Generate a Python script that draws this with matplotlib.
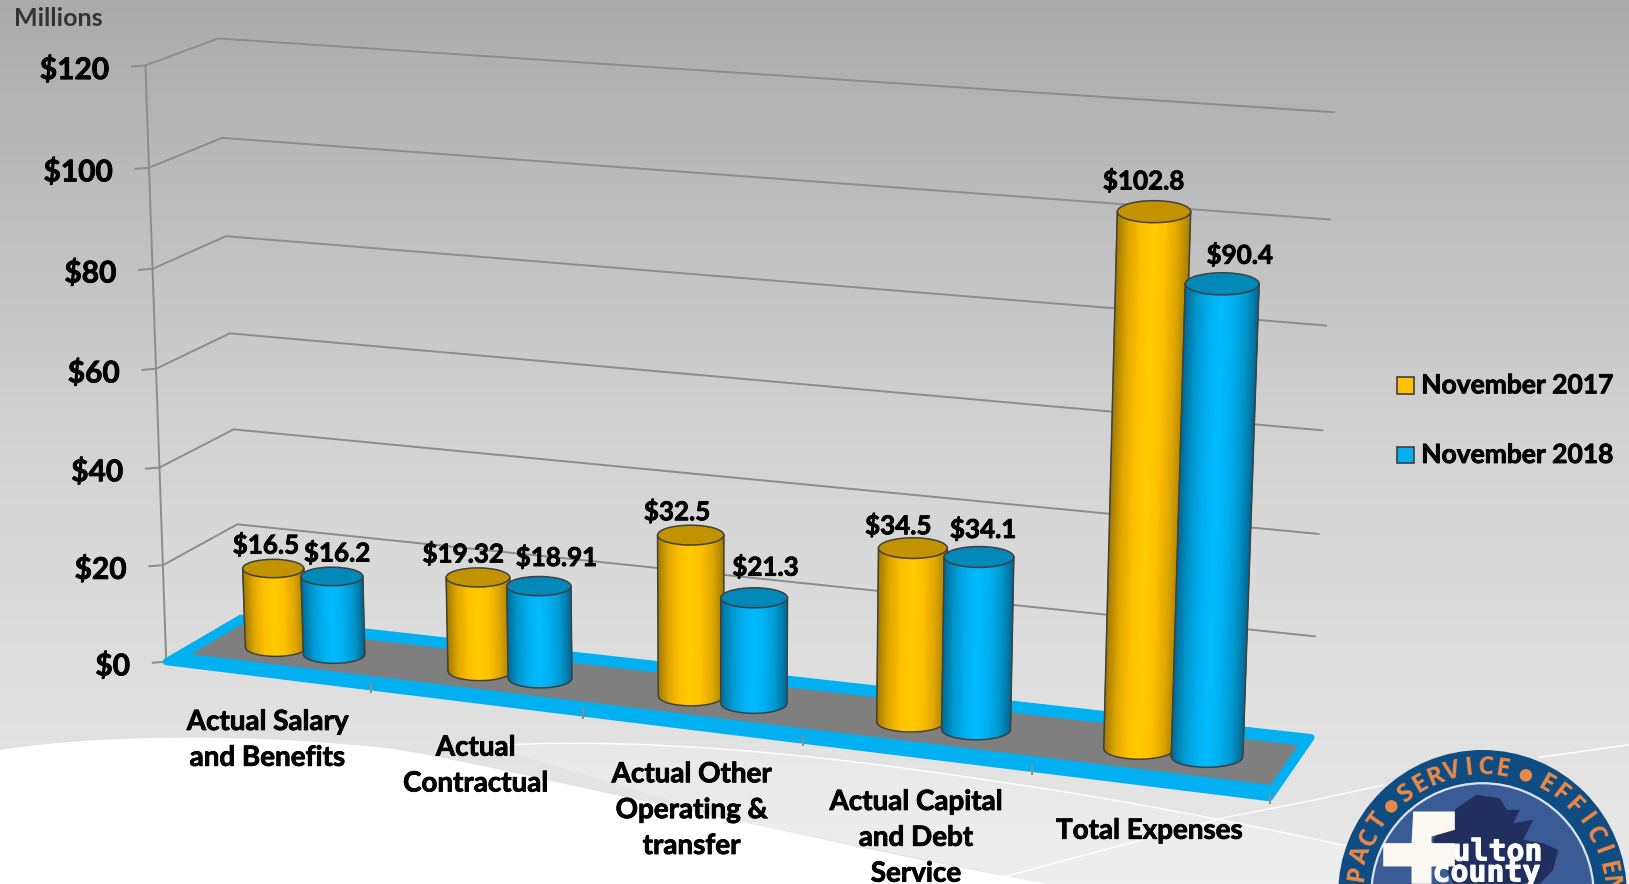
import numpy as np
import matplotlib
matplotlib.use("Agg")
import matplotlib.pyplot as plt
import matplotlib.patheffects as pe
from matplotlib.colors import LinearSegmentedColormap
from matplotlib.patches import Circle, Ellipse, PathPatch, Polygon, Rectangle
from matplotlib.path import Path

# chart data
categories = [["Actual Salary", "and Benefits"],
              ["Actual", "Contractual"],
              ["Actual Other", "Operating &", "transfer"],
              ["Actual Capital", "and Debt", "Service"],
              ["Total Expenses"]]
series_names = ["November 2017", "November 2018"]
nov_2017 = [16.5, 19.32, 32.5, 34.5, 102.8]
nov_2018 = [16.2, 18.91, 21.3, 34.1, 90.4]
y_ticks = [0, 20, 40, 60, 80, 100, 120]

plt.rcParams["font.family"] = ["Lato", "DejaVu Sans"]
plt.rcParams["font.weight"] = "bold"

# Lato Bold is a little lighter than the original face
HEAVY = [pe.withStroke(linewidth=0.6, foreground="black")]
HEAVY_WHITE = [pe.withStroke(linewidth=0.8, foreground="white")]

fig = plt.figure(figsize=(16.29, 8.84), dpi=100)
ax = fig.add_axes([0, 0, 1, 1])
ax.set_xlim(0, 1568)
ax.set_ylim(851, 0)
ax.axis("off")

# background
bg = LinearSegmentedColormap.from_list("bg", ["#ABABAB", "#D3D3D3", "#E9E9E9"])
ax.imshow(np.linspace(0, 1, 256).reshape(-1, 1), cmap=bg, extent=(0, 1568, 851, 0),
          aspect="auto", zorder=0)
C4, L2, M2 = Path.CURVE4, Path.LINETO, Path.MOVETO
band_pts = [(470, 718), (560, 712), (700, 715), (903, 744), (1000, 758), (1100, 772), (1300, 815)]
band_code = [M2, C4, C4, C4, C4, C4, C4]
ax.add_patch(PathPatch(Path(band_pts + [(1568, 851), (1010, 851), (718, 792)],
                            band_code + [L2, L2, L2]),
                       fc="white", ec="none", alpha=0.25, zorder=1))
white_pts = [(0, 722), (90, 708), (230, 705), (369, 720), (430, 727), (560, 760), (718, 792),
             (800, 810), (900, 832), (1010, 851), (0, 851)]
white_code = [M2, C4, C4, C4, C4, C4, C4, C4, C4, C4, L2]
ax.add_patch(PathPatch(Path(white_pts, white_code), fc="white", ec="none", zorder=1))
ax.add_patch(PathPatch(Path(band_pts, band_code), fc="none", ec="white", lw=1, zorder=1))
ax.plot([963, 1179, 1251, 1331], [845, 787, 773, 756], color="white", lw=1, zorder=1)
ax.plot([1482, 1568], [729, 717], color="white", lw=1, zorder=1)

# projection of the 3D chart box: u = category position, d = depth, v = dollars
front_left, back_left = np.array([160, 637.0]), np.array([232, 595.0])
back_right, front_right = np.array([1262, 710.0]), np.array([1222, 768.0])
up_fl, up_bl = np.array([-20, -574.0]), np.array([-22, -558.0])
up_br, up_fr = np.array([22, -602.0]), np.array([24, -625.0])
K = 1.1


def project(u, d, v=0.0):
    s = u / 5
    f = s / (s + (1 - s) * K)
    base = (1 - d) * (front_left + f * (front_right - front_left)) \
        + d * (back_left + f * (back_right - back_left))
    up = (1 - f) * ((1 - d) * up_fl + d * up_bl) + f * ((1 - d) * up_fr + d * up_br)
    t = v / 120
    t = t * (1 + 0.035 * (t - 1))
    return base[0] + up[0] * t, base[1] + up[1] * t


GRID = "#8C8C8C"

# walls and value axis
for v in y_ticks:
    p0, p1, p2 = project(0, 0, v), project(0, 1, v), project(5, 1, v)
    if v > 0:
        ax.plot([p0[0], p1[0], p2[0]], [p0[1], p1[1], p2[1]], color=GRID, lw=1.4, zorder=2)
    ax.plot([p0[0] - 13, p0[0]], [p0[1] + 1, p0[1]], color=GRID, lw=1.4, zorder=2)
    ax.text(p0[0] - 35, p0[1] + 4, f"${v}", ha="right", va="center", fontsize=21.5,
            color="black", zorder=6, path_effects=HEAVY)
ax.plot(*zip(project(0, 0, 0), project(0, 0, 120)), color=GRID, lw=1.4, zorder=2)

# floor
ax.add_patch(Polygon([project(0, 0), project(0, 1), project(5, 1), project(5, 0)],
                     fc="#00B0F0", ec="#00B0F0", lw=5, joinstyle="round", zorder=2.1))
ax.add_patch(Polygon([project(0.05, 0.2), project(0.05, 0.86),
                      project(4.97, 0.86), project(4.97, 0.2)],
                     fc="#7F7F7F", ec="none", zorder=2.2))
for i in range(1, 6):
    x0, y0 = project(i, 0)
    ax.plot([x0, x0], [y0 - 4, y0 + 5], color=GRID, lw=1.4, zorder=2.3)

shade_2017 = LinearSegmentedColormap.from_list(
    "y", ["#A07A00", "#E0A800", "#FFC000", "#FFCC00", "#FFC000", "#E0A800", "#A88000"])
shade_2018 = LinearSegmentedColormap.from_list(
    "b", ["#006A94", "#0098D0", "#00B0F0", "#00BBFF", "#00B0F0", "#0098D0", "#006A94"])
caps = ["#C29200", "#0088B8"]
shades = [shade_2017, shade_2018]
OUTLINE = "#404040"
radius = 0.152
depth = 0.52
offsets = [-0.145, 0.145]
label_shift = {(0, 0): (-7, -23), (0, 1): (5, -23), (1, 0): (-14, -23), (1, 1): (17, -28),
               (2, 0): (-13, -23), (2, 1): (11, -30), (3, 0): (-14, -22), (3, 1): (4, -27),
               (4, 0): (-10, -30), (4, 1): (17, -28)}


def draw_cylinder(u, value, k, order):
    bx0, by = project(u - radius, depth)
    bx1, _ = project(u + radius, depth)
    tx0, ty = project(u - radius, depth, value)
    tx1, _ = project(u + radius, depth, value)
    bx, tx = (bx0 + bx1) / 2, (tx0 + tx1) / 2
    brx, trx = (bx1 - bx0) / 2, (tx1 - tx0) / 2
    by = project(u, depth)[1]
    ty = project(u, depth, value)[1]
    bry, try_ = brx * 0.3, trx * 0.3
    t = np.linspace(-1, 1, 80)
    arc = np.sqrt(1 - t ** 2)
    xs = np.vstack([bx + t * brx, tx + t * trx])
    ys = np.vstack([by + arc * bry, ty + arc * try_])
    ax.pcolormesh(xs, ys, np.vstack([t, t]), cmap=shades[k], shading="gouraud",
                  vmin=-1, vmax=1, zorder=order)
    ax.plot(list(bx + t * brx) + [tx + trx], list(by + arc * bry) + [ty], color=OUTLINE,
            lw=1.1, zorder=order + 0.1)
    ax.plot([bx - brx, tx - trx], [by, ty], color=OUTLINE, lw=1.1, zorder=order + 0.1)
    ax.add_patch(Ellipse((tx, ty), 2 * trx, 2 * try_, fc=caps[k], ec=OUTLINE, lw=1.1,
                         zorder=order + 0.2))
    return tx, ty


# bars and their labels
order = 3.0
for i in range(len(categories)):
    for k, vals in enumerate([nov_2017, nov_2018]):
        tx, ty = draw_cylinder(i + 0.5 + offsets[k], vals[i], k, order)
        order += 0.3
        dx, dy = label_shift[(i, k)]
        ax.text(tx + dx, ty + dy, f"${vals[i]:g}", ha="center", va="center", fontsize=18.7,
                color="black", zorder=7, path_effects=HEAVY)

# category labels
for i, lines in enumerate(categories):
    x0, y0 = project(i + 0.5, 0)
    for n, line in enumerate(lines):
        ax.text(x0, y0 + 46 + n * 34.5, line, ha="center", va="center", fontsize=20,
                color="black", zorder=6, path_effects=HEAVY)

# legend
for k, (name, col, yy) in enumerate(zip(series_names, ["#FFC000", "#00B0F0"], [371, 438])):
    ax.add_patch(Rectangle((1345, yy - 8), 16, 16, fc=col, ec=OUTLINE, lw=1.2, zorder=6))
    ax.text(1368, yy, name, ha="left", va="center", fontsize=19, color="black", zorder=6,
            path_effects=HEAVY)

ax.text(13, 18, "Millions", ha="left", va="center", fontsize=18, color="#333333", zorder=6)


# county seal, bottom right
def seal(zx, zy):
    return (1300 + zx / 3) / 1.039, (730 + zy / 3) / 1.039


cx, cy = 1427, 861
ax.add_patch(Circle((cx, cy), 139, fc="#0F4C81", ec="none", zorder=8))
ax.add_patch(Circle((cx, cy), 107, fc="#3B5B96", ec="#DCE4F0", lw=1.6, zorder=8.1))
map_pts = [(470, 235), (530, 195), (600, 205), (620, 240), (660, 240), (640, 280), (700, 270),
           (670, 330), (730, 340), (775, 360), (760, 420), (720, 462), (460, 462), (400, 330)]
ax.add_patch(Polygon([seal(*p) for p in map_pts], fc="#202F5E", ec="none", zorder=8.2))
f_pts = [(340, 245), (465, 245), (465, 300), (395, 320), (395, 340), (465, 340), (465, 410),
         (395, 410), (395, 462), (335, 462), (335, 410), (250, 410), (250, 340), (335, 340)]
ax.add_patch(Polygon([seal(*p) for p in f_pts], fc="#FBF9F2", ec="none", zorder=8.3))
ax.text(*seal(458, 392), "ulton", family="DejaVu Sans Mono", fontsize=21.5, color="white",
        ha="left", va="baseline", zorder=8.4, path_effects=HEAVY_WHITE)
ax.text(*seal(398, 455), "county", family="DejaVu Sans Mono", fontsize=21.5, color="white",
        ha="left", va="baseline", zorder=8.4, path_effects=HEAVY_WHITE)
ring_words = [("SERVICE", -37, 7.7), ("EFFICIENCY", 30, 8.0), ("TCAPMI", -55, -8.5)]
for word, start, step in ring_words:
    for n, ch in enumerate(word):
        ang = np.radians(start + n * step)
        ax.text(cx + 122 * np.sin(ang), cy - 122 * np.cos(ang), ch, family="Open Sans",
                fontsize=18, color="#E8894A", rotation=-np.degrees(ang), rotation_mode="anchor",
                ha="center", va="center", zorder=8.4, clip_on=True)
for a in [-46, 20]:
    ang = np.radians(a)
    ax.add_patch(Circle((cx + 122 * np.sin(ang), cy - 122 * np.cos(ang)), 6, fc="#E8894A",
                        ec="none", zorder=8.4))

fig.savefig("out.png", dpi=100)
